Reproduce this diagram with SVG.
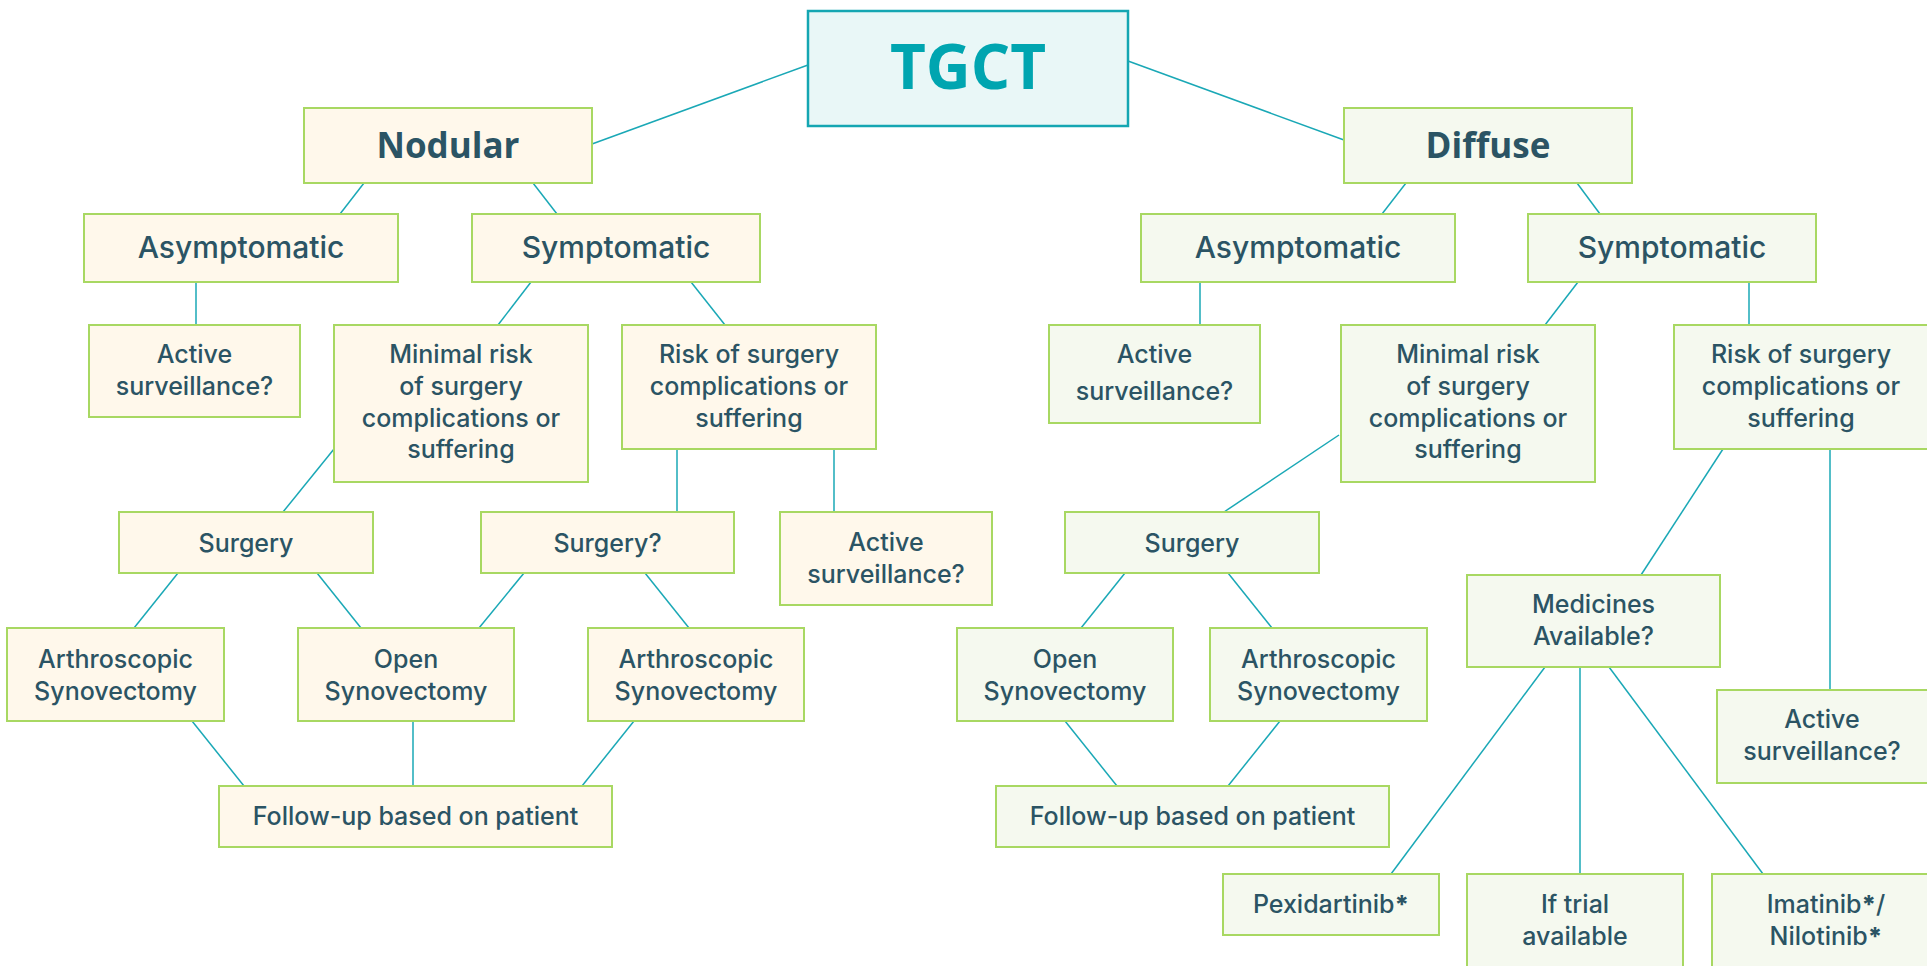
<svg xmlns="http://www.w3.org/2000/svg" width="1927" height="966" viewBox="0 0 1927 966">
<style>
.c line{stroke:#1aa8b6;stroke-width:1.5}
.nl rect{fill:#fff8eb;stroke:#a8d862;stroke-width:2}
.nr rect{fill:#f5f9ef;stroke:#a8d862;stroke-width:2}
text{font-family:Inter,"Open Sans","Liberation Sans",sans-serif;fill:#2b5464;text-anchor:middle;font-size:25px;font-weight:450}
.h{font-family:"Open Sans",Inter,"Liberation Sans",sans-serif;font-size:35px;font-weight:bold}
.m{font-size:30px}
.b{font-weight:800}
</style>
<rect width="1927" height="966" fill="#ffffff"/>
<g class="c">
<line x1="808" y1="65" x2="592" y2="144"/>
<line x1="1128" y1="61" x2="1344" y2="140"/>
<line x1="364" y1="183" x2="340" y2="214"/>
<line x1="533" y1="183" x2="557" y2="214"/>
<line x1="196" y1="282" x2="196" y2="325"/>
<line x1="531" y1="282" x2="498" y2="325"/>
<line x1="691" y1="282" x2="725" y2="325"/>
<line x1="334" y1="449" x2="283" y2="512"/>
<line x1="677" y1="449" x2="677" y2="512"/>
<line x1="834" y1="449" x2="834" y2="512"/>
<line x1="178" y1="573" x2="134" y2="628"/>
<line x1="317" y1="573" x2="361" y2="628"/>
<line x1="524" y1="573" x2="479" y2="628"/>
<line x1="645" y1="573" x2="689" y2="628"/>
<line x1="192" y1="721" x2="244" y2="786"/>
<line x1="413" y1="721" x2="413" y2="786"/>
<line x1="634" y1="721" x2="582" y2="786"/>
<line x1="1406" y1="183" x2="1382" y2="214"/>
<line x1="1577" y1="183" x2="1600" y2="214"/>
<line x1="1200" y1="282" x2="1200" y2="325"/>
<line x1="1578" y1="282" x2="1545" y2="325"/>
<line x1="1749" y1="282" x2="1749" y2="325"/>
<line x1="1339" y1="435" x2="1224" y2="512"/>
<line x1="1125" y1="573" x2="1081" y2="628"/>
<line x1="1228" y1="573" x2="1272" y2="628"/>
<line x1="1065" y1="721" x2="1117" y2="786"/>
<line x1="1280" y1="721" x2="1228" y2="786"/>
<line x1="1723" y1="449" x2="1641" y2="575"/>
<line x1="1830" y1="449" x2="1830" y2="690"/>
<line x1="1545" y1="667" x2="1391" y2="874"/>
<line x1="1580" y1="667" x2="1580" y2="874"/>
<line x1="1609" y1="667" x2="1763" y2="874"/>
</g>
<g id="tgct"><rect x="808" y="11" width="320" height="115" fill="#e9f7f7" stroke="#14a6b2" stroke-width="2.5"/><text x="968" y="89" style="font-family:'Open Sans','Liberation Sans',sans-serif;font-size:62px;font-weight:bold;fill:#00a5b0">TGCT</text></g>
<g id="nodular" class="nl"><rect x="304" y="108" width="288" height="75"/><text class="h" x="448" y="158">Nodular</text></g>
<g id="diffuse" class="nr"><rect x="1344" y="108" width="288" height="75"/><text class="h" x="1488" y="158">Diffuse</text></g>
<g id="asym-l" class="nl"><rect x="84" y="214" width="314" height="68"/><text class="m" x="241" y="258">Asymptomatic</text></g>
<g id="sym-l" class="nl"><rect x="472" y="214" width="288" height="68"/><text class="m" x="616" y="258">Symptomatic</text></g>
<g id="asym-r" class="nr"><rect x="1141" y="214" width="314" height="68"/><text class="m" x="1298" y="258">Asymptomatic</text></g>
<g id="sym-r" class="nr"><rect x="1528" y="214" width="288" height="68"/><text class="m" x="1672" y="258">Symptomatic</text></g>
<g id="active-l" class="nl"><rect x="89" y="325" width="211" height="92"/><text x="194.5" y="363">Active</text><text x="194.5" y="395">surveillance?</text></g>
<g id="minimal-l" class="nl"><rect x="334" y="325" width="254" height="157"/><text x="461" y="363">Minimal risk</text><text x="461" y="395">of surgery</text><text x="461" y="427">complications or</text><text x="461" y="458">suffering</text></g>
<g id="risk-l" class="nl"><rect x="622" y="325" width="254" height="124"/><text x="749" y="363">Risk of surgery</text><text x="749" y="395">complications or</text><text x="749" y="427">suffering</text></g>
<g id="active-r" class="nr"><rect x="1049" y="325" width="211" height="98"/><text x="1154.5" y="363">Active</text><text x="1154.5" y="400">surveillance?</text></g>
<g id="minimal-r" class="nr"><rect x="1341" y="325" width="254" height="157"/><text x="1468" y="363">Minimal risk</text><text x="1468" y="395">of surgery</text><text x="1468" y="427">complications or</text><text x="1468" y="458">suffering</text></g>
<g id="risk-r" class="nr"><rect x="1674" y="325" width="254" height="124"/><text x="1801" y="363">Risk of surgery</text><text x="1801" y="395">complications or</text><text x="1801" y="427">suffering</text></g>
<g id="surgery-l" class="nl"><rect x="119" y="512" width="254" height="61"/><text x="246" y="552">Surgery</text></g>
<g id="surgery-q" class="nl"><rect x="481" y="512" width="253" height="61"/><text x="607.5" y="552">Surgery?</text></g>
<g id="active-m" class="nl"><rect x="780" y="512" width="212" height="93"/><text x="886" y="551">Active</text><text x="886" y="583">surveillance?</text></g>
<g id="surgery-r" class="nr"><rect x="1065" y="512" width="254" height="61"/><text x="1192" y="552">Surgery</text></g>
<g id="arthro-1" class="nl"><rect x="7" y="628" width="217" height="93"/><text x="115.5" y="668">Arthroscopic</text><text x="115.5" y="700">Synovectomy</text></g>
<g id="open-l" class="nl"><rect x="298" y="628" width="216" height="93"/><text x="406" y="668">Open</text><text x="406" y="700">Synovectomy</text></g>
<g id="arthro-2" class="nl"><rect x="588" y="628" width="216" height="93"/><text x="696" y="668">Arthroscopic</text><text x="696" y="700">Synovectomy</text></g>
<g id="open-r" class="nr"><rect x="957" y="628" width="216" height="93"/><text x="1065" y="668">Open</text><text x="1065" y="700">Synovectomy</text></g>
<g id="arthro-r" class="nr"><rect x="1210" y="628" width="217" height="93"/><text x="1318.5" y="668">Arthroscopic</text><text x="1318.5" y="700">Synovectomy</text></g>
<g id="follow-l" class="nl"><rect x="219" y="786" width="393" height="61"/><text x="415.5" y="825">Follow-up based on patient</text></g>
<g id="follow-r" class="nr"><rect x="996" y="786" width="393" height="61"/><text x="1192.5" y="825">Follow-up based on patient</text></g>
<g id="medicines" class="nr"><rect x="1467" y="575" width="253" height="92"/><text x="1593.5" y="613">Medicines</text><text x="1593.5" y="645">Available?</text></g>
<g id="active-fr" class="nr"><rect x="1717" y="690" width="211" height="93"/><text x="1822" y="728">Active</text><text x="1822" y="760">surveillance?</text></g>
<g id="pexi" class="nr"><rect x="1223" y="874" width="216" height="61"/><text x="1331" y="913">Pexidartinib<tspan class="b">*</tspan></text></g>
<g id="trial" class="nr"><rect x="1467" y="874" width="216" height="96"/><text x="1575" y="913">If trial</text><text x="1575" y="945">available</text></g>
<g id="imatinib" class="nr"><rect x="1712" y="874" width="220" height="96"/><text x="1826" y="913">Imatinib<tspan class="b">*</tspan>/</text><text x="1826" y="945">Nilotinib<tspan class="b">*</tspan></text></g>
</svg>
